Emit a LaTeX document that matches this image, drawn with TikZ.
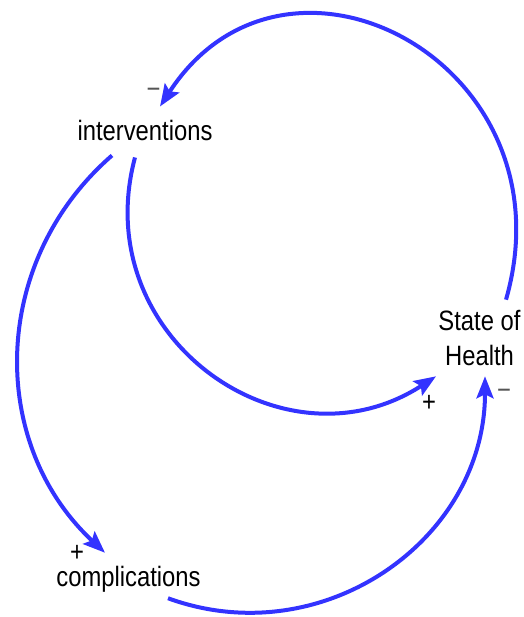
\documentclass[tikz,border=0pt]{standalone}
\usepackage{fontspec}
\setmainfont{Liberation Sans}[FakeStretch=0.85]
\usetikzlibrary{arrows.meta}
\definecolor{loop blue}{RGB}{51,51,255}
\definecolor{sign grey}{RGB}{85,85,85}

\begin{document}
\begin{tikzpicture}[
					x=1pt, y=1pt,
					factor/.style={font=\fontsize{28}{35.7}\selectfont, inner sep=0pt},
					polarity/.style={font=\fontsize{28}{28}\selectfont, inner sep=0pt, anchor=base},
					link/.style={draw=loop blue, line width=4pt, -{Stealth[length=22pt,width=17pt,inset=4pt]}},
				]
					\fill[white] (0,0) rectangle (523,617);
					\useasboundingbox (0,0) rectangle (523,617);
					
					\node[factor] (intv) at (145,486) {interventions};
					\node[factor, align=center] (health) at (479.5,279) {State of\\Health};
					\node[factor] (compl) at (128.5,38) {complications};
					
					\draw[link] ([shift={(26.5,10)}]health.north) to[out=74, in=57, out distance=246pt, in distance=232pt] ([shift={(15,14)}]intv.north);
					\draw[link] ([shift={(-10,-16)}]intv.south) to[out=255, in=213, out distance=186pt, in distance=182pt] ([shift={(-43.5,-10)}]health.south);
					\draw[link] ([shift={(-33,-14)}]intv.south) to[out=221, in=137, out distance=161pt, in distance=161pt] ([shift={(-23.5,13)}]compl.north);
					\draw[link] ([shift={(39.5,-6)}]compl.south) to[out=340, in=270, out distance=164pt, in distance=164pt] ([shift={(5.5,-10)}]health.south);
					
					\node[polarity, text=sign grey] (m1) at (153.5,518.2) {−};
					\node[polarity] (p1) at (429,205.2) {+};
					\node[polarity, text=sign grey] (m2) at (504,217.2) {−};
					\node[polarity] (p2) at (77,55.5) {+};
				\end{tikzpicture}
\end{document}
